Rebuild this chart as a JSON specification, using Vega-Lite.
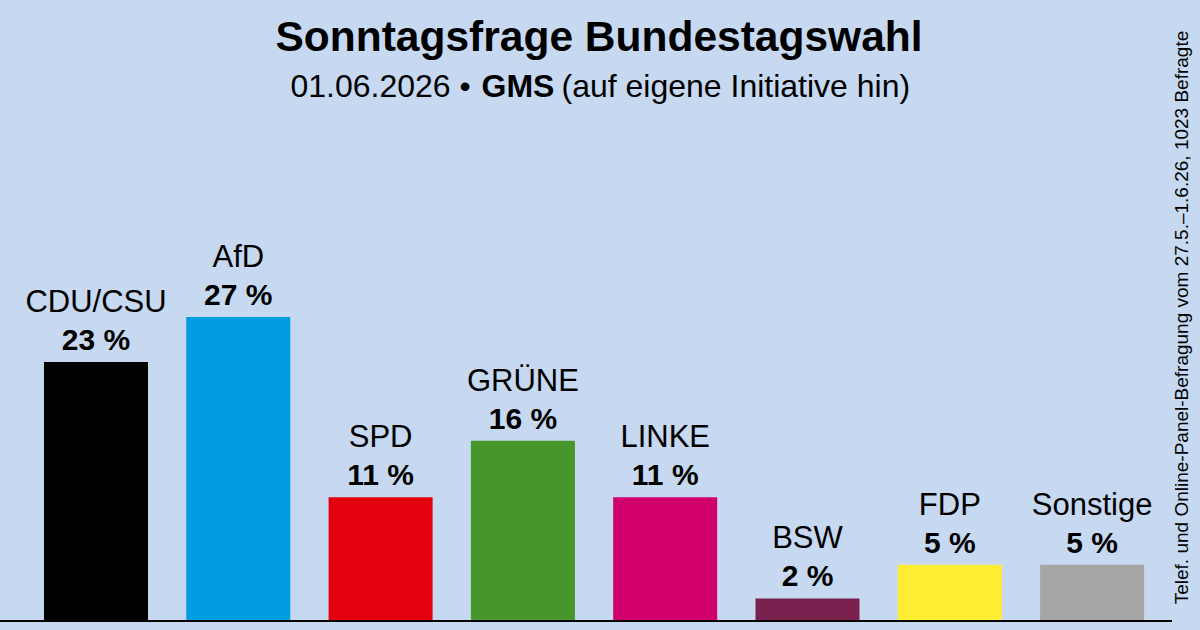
{
  "$schema": "https://vega.github.io/schema/vega-lite/v6.json",
  "autosize": {"type": "none"},
  "padding": {"left": 0, "top": 120, "right": 28, "bottom": 9},
  "width": 1172,
  "height": 501,
  "background": "#c6d9f0",
  "config": {
    "view": {"stroke": null},
    "font": "Liberation Sans",
    "axis": {"domain": false, "ticks": false, "labels": false, "grid": false, "titleColor": "#000000", "titleFont": "Liberation Sans"}
  },
  "title": {
    "text": "Sonntagsfrage Bundestagswahl",
    "font": "Liberation Sans",
    "fontSize": 42.5,
    "fontWeight": "bold",
    "color": "#000000",
    "anchor": "middle",
    "frame": "group",
    "baseline": "alphabetic",
    "dx": 13,
    "offset": -63
  },
  "data": {
    "values": [
      {"party": "CDU/CSU", "value": 23, "label": "23 %"},
      {"party": "AfD", "value": 27, "label": "27 %"},
      {"party": "SPD", "value": 11, "label": "11 %"},
      {"party": "GRÜNE", "value": 16, "label": "16 %"},
      {"party": "LINKE", "value": 11, "label": "11 %"},
      {"party": "BSW", "value": 2, "label": "2 %"},
      {"party": "FDP", "value": 5, "label": "5 %"},
      {"party": "Sonstige", "value": 5, "label": "5 %"}
    ]
  },
  "layer": [
    {
      "mark": {"type": "bar"},
      "encoding": {
        "x": {
          "field": "party", "type": "nominal", "sort": null,
          "scale": {"paddingInner": 0.269, "paddingOuter": 0.2525, "align": 0.612},
          "axis": {
            "orient": "top", "title": "01.06.2026 •",
            "titleFontSize": 32, "titleFontWeight": "normal",
            "titleAlign": "left", "titleBaseline": "alphabetic",
            "titleX": 290, "titleY": -24
          }
        },
        "y": {
          "field": "value", "type": "quantitative",
          "scale": {"domain": [0, 44.5], "nice": false},
          "axis": {
            "orient": "right",
            "title": "Telef. und Online-Panel-Befragung vom 27.5.–1.6.26, 1023 Befragte",
            "titleFontSize": 19, "titleFontWeight": "normal",
            "titleAngle": 270, "titleAlign": "center", "titleBaseline": "alphabetic",
            "titleX": 15, "titleY": 197
          }
        },
        "color": {
          "field": "party", "type": "nominal",
          "scale": {
            "domain": ["CDU/CSU", "AfD", "SPD", "GRÜNE", "LINKE", "BSW", "FDP", "Sonstige"],
            "range": ["#000000", "#009ee0", "#e3000f", "#46962b", "#d1006c", "#7b2150", "#ffed33", "#a6a6a6"]
          },
          "legend": null
        }
      }
    },
    {
      "mark": {"type": "text", "baseline": "alphabetic", "dy": -50, "fontSize": 31, "color": "#000000"},
      "encoding": {
        "x": {
          "field": "party", "type": "nominal", "sort": null,
          "axis": {
            "orient": "bottom", "title": "GMS",
            "titleFontSize": 32, "titleFontWeight": "bold",
            "titleAlign": "left", "titleBaseline": "alphabetic",
            "titleX": 481, "titleY": -525
          }
        },
        "y": {
          "field": "value", "type": "quantitative",
          "axis": {
            "orient": "left", "title": "(auf eigene Initiative hin)",
            "titleFontSize": 32, "titleFontWeight": "normal",
            "titleAngle": 0, "titleAlign": "left", "titleBaseline": "alphabetic",
            "titleX": 561, "titleY": -24
          }
        },
        "text": {"field": "party"}
      }
    },
    {
      "mark": {"type": "text", "baseline": "alphabetic", "dy": -12, "fontSize": 30, "fontWeight": "bold", "color": "#000000"},
      "encoding": {
        "x": {"field": "party", "type": "nominal", "sort": null, "axis": null},
        "y": {"field": "value", "type": "quantitative", "axis": null},
        "text": {"field": "label"}
      }
    },
    {
      "mark": {"type": "rule", "color": "#000000", "strokeWidth": 1.5},
      "encoding": {
        "y": {"datum": 0, "type": "quantitative", "axis": null}
      }
    }
  ],
  "resolve": {"axis": {"x": "independent", "y": "independent"}}
}
